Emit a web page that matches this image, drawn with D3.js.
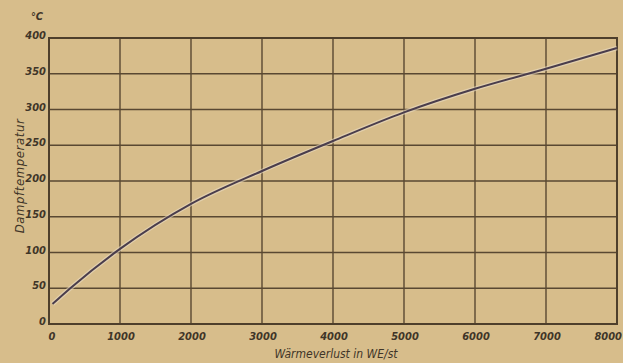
<!DOCTYPE html>
<html>
<head>
<meta charset="utf-8">
<script src="https://cdn.jsdelivr.net/npm/d3@7"></script>
<style>
  body { margin: 0; background: #d7bd8b; }
  svg { display: block; }
  text { font-family: "DejaVu Sans Condensed", "DejaVu Sans", sans-serif; font-style: italic; fill: #3f3528; }
</style>
</head>
<body>
<div id="chart"></div>
<script>
// Wärmeverlust (WE/st) -> Dampftemperatur (°C)
const waermeverlust = [50, 300, 1000, 2000, 3000, 4000, 5000, 6000, 7000, 8000]
const dampftemp = [28, 50, 105, 168, 214, 256, 296, 329, 357, 386]
const xTicks = [0, 1000, 2000, 3000, 4000, 5000, 6000, 7000, 8000]
const yTicks = [0, 50, 100, 150, 200, 250, 300, 350, 400]

const width = 623
const height = 363
const margins = { top: 38, right: 6, bottom: 39, left: 49 }

const svg = d3
  .select("#chart")
  .append("svg")
  .attr("width", width)
  .attr("height", height)

svg.append("rect").attr("width", width).attr("height", height).attr("fill", "#d7bd8b")

const x = d3.scaleLinear().domain([0, 8000]).range([margins.left, width - margins.right])
const y = d3.scaleLinear().domain([0, 400]).range([height - margins.bottom, margins.top])

// grid
svg
  .append("g")
  .selectAll("line")
  .data(xTicks)
  .join("line")
  .attr("x1", (d) => x(d))
  .attr("x2", (d) => x(d))
  .attr("y1", y(400))
  .attr("y2", y(0))
  .attr("stroke", "#594832")
  .attr("stroke-width", 1.4)

svg
  .append("g")
  .selectAll("line")
  .data(yTicks)
  .join("line")
  .attr("x1", x(0))
  .attr("x2", x(8000))
  .attr("y1", (d) => y(d))
  .attr("y2", (d) => y(d))
  .attr("stroke", "#594832")
  .attr("stroke-width", 1.4)

// frame
svg
  .append("rect")
  .attr("x", x(0))
  .attr("y", y(400))
  .attr("width", x(8000) - x(0))
  .attr("height", y(0) - y(400))
  .attr("fill", "none")
  .attr("stroke", "#4e3f2c")
  .attr("stroke-width", 2)

// curve
const line = d3
  .line()
  .x((d, i) => x(waermeverlust[i]))
  .y((d) => y(d))
  .curve(d3.curveMonotoneX)

svg
  .append("path")
  .attr("d", line(dampftemp))
  .attr("fill", "none")
  .attr("stroke", "#eadcc4")
  .attr("stroke-width", 4.5)
  .attr("opacity", 0.6)

svg
  .append("path")
  .attr("d", line(dampftemp))
  .attr("fill", "none")
  .attr("stroke", "#4a3d4c")
  .attr("stroke-width", 2)

// tick labels
svg
  .append("g")
  .selectAll("text")
  .data(xTicks)
  .join("text")
  .attr("x", (d) => (d === 0 ? x(d) + 3 : d === 8000 ? width - 1 : x(d) + 1))
  .attr("y", 340)
  .attr("text-anchor", (d) => (d === 8000 ? "end" : "middle"))
  .style("font-size", "11px")
  .style("font-weight", "bold")
  .text((d) => d)

svg
  .append("g")
  .selectAll("text")
  .data(yTicks)
  .join("text")
  .attr("x", x(0) - 3)
  .attr("y", (d) => y(d) + 1)
  .attr("text-anchor", "end")
  .style("font-size", "11px")
  .style("font-weight", "bold")
  .text((d) => d)

svg
  .append("text")
  .attr("x", 37)
  .attr("y", 20)
  .attr("text-anchor", "middle")
  .style("font-size", "11px")
  .style("font-weight", "bold")
  .text("°C")

svg
  .append("text")
  .attr("x", 336)
  .attr("y", 358)
  .attr("text-anchor", "middle")
  .style("font-size", "12px")
  .text("Wärmeverlust in WE/st")

svg
  .append("text")
  .attr("transform", "translate(24,176) rotate(-90)")
  .attr("text-anchor", "middle")
  .style("font-size", "13px")
  .style("letter-spacing", "0.6px")
  .text("Dampftemperatur")
</script>
</body>
</html>
